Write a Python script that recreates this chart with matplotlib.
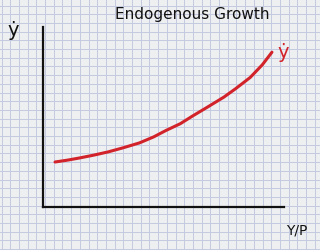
import numpy as np
import matplotlib.pyplot as plt

# curve (arbitrary units, 0-100 on both axes)
output_pc = [5, 10, 15, 21, 27, 33, 40, 46, 51, 57, 62, 68, 75, 80, 86, 91, 95]
growth = [25, 26, 27.2, 28.8, 30.6, 32.8, 35.6, 39, 42.5, 46.3, 50.5, 55.3,
          61, 65.8, 72, 79, 86]

title = 'Endogenous Growth'
x_label = 'Y/P'
y_label = 'ẏ'
curve_label = 'ẏ'

W, H = 320, 250
fig = plt.figure(figsize=(W / 100, H / 100), dpi=100)
fig.patch.set_facecolor('#eeeff1')

# graph paper background
bg = fig.add_axes([0, 0, 1, 1])
bg.set_xlim(0, W)
bg.set_ylim(H, 0)
bg.set_facecolor('#eeeff1')
for gx in np.arange(1.5, W, 8.7):
    bg.axvline(gx, color='#c3c9df', lw=0.7)
for gy in np.arange(5.5, H, 8.7):
    bg.axhline(gy, color='#c3c9df', lw=0.7)
bg.axis('off')

ax = fig.add_axes([43 / W, 1 - 207 / H, 241 / W, 180 / H])
ax.patch.set_alpha(0)
ax.set_xlim(0, 100)
ax.set_ylim(0, 100)
for side in ['top', 'right']:
    ax.spines[side].set_visible(False)
for side in ['left', 'bottom']:
    ax.spines[side].set_color('#111111')
    ax.spines[side].set_linewidth(1.6)
ax.set_xticks([])
ax.set_yticks([])

ax.plot(output_pc, growth, color='#d2232a', lw=2.2, solid_capstyle='round',
        solid_joinstyle='round')

ax.text(0.62, 1.07, title, transform=ax.transAxes, ha='center', va='center',
        fontsize=11, color='#111111')
ax.text(-0.125, 0.98, y_label, transform=ax.transAxes, ha='center', va='center',
        fontsize=14, color='#111111')
ax.text(0.995, 0.86, curve_label, transform=ax.transAxes, ha='center', va='center',
        fontsize=14, color='#d2232a')
ax.text(1.055, -0.13, x_label, transform=ax.transAxes, ha='center', va='center',
        fontsize=10, color='#111111')

fig.savefig('out.png', dpi=100, facecolor=fig.get_facecolor())
